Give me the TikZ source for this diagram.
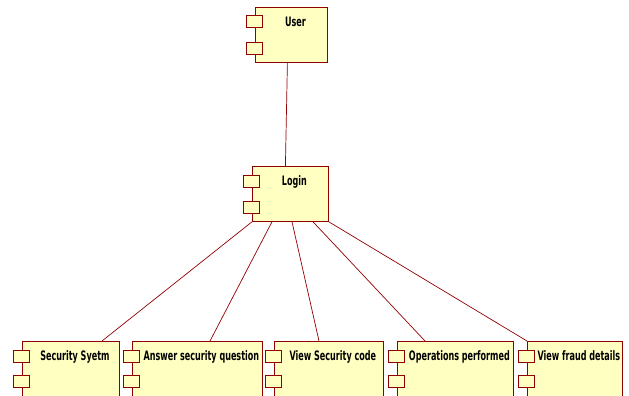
\documentclass[tikz,border=0pt]{standalone}
\usepackage{fontspec}
\setmainfont{DejaVu Sans}[FakeStretch=0.62]
\definecolor{compline}{RGB}{145,0,0}
\definecolor{compfill}{RGB}{255,255,194}

\begin{document}
\begin{tikzpicture}[x=1pt, y=-1pt,
    comp/.style={draw=compline, fill=compfill, line width=0.8pt, anchor=north west,
      minimum height=55pt, inner xsep=2pt, inner ysep=9pt, text height=10pt, text depth=27pt,
      font=\bfseries\fontsize{13}{15}\selectfont, execute at begin node=\hspace*{8pt}},
    tab/.style={draw=compline, fill=compfill, line width=0.8pt},
    link/.style={draw=compline, line width=0.7pt}]
  \useasboundingbox (0,0) rectangle (629,396);

  \node[comp, minimum width=72pt] (user) at (255,7) {User};
  \node[comp, minimum width=76pt] (login) at (252,166) {Login};

  \node[comp, minimum width=97pt] (secsys) at (22,341) {Security Syetm};
  \node[comp, minimum width=130pt] (answer) at (132,341) {Answer security question};
  \node[comp, minimum width=109pt] (viewcode) at (274,341) {View Security code};
  \node[comp, minimum width=116pt] (operations) at (397,341) {Operations performed};
  \node[comp, minimum width=95pt] (fraud) at (527,341) {View fraud details};

  % component tabs
  \foreach \n/\a/\b in {user/8/35, login/9/35, secsys/9/34, answer/9/34,
      viewcode/9/34, operations/9/34, fraud/9/34} {
    \draw[tab] ([shift={(-9,\a)}]\n.north west) rectangle ++(16,12);
    \draw[tab] ([shift={(-9,\b)}]\n.north west) rectangle ++(16,12);
  }

  \draw[link] ([xshift=-4pt]user.south) -- ([xshift=-5pt]login.north);

  \draw[link] (login.south west) -- ([xshift=80pt]secsys.north west);
  \draw[link] ([xshift=20pt]login.south west) -- ([xshift=78pt]answer.north west);
  \draw[link] ([xshift=40pt]login.south west) -- ([xshift=45pt]viewcode.north west);
  \draw[link] ([xshift=61pt]login.south west) -- ([xshift=28pt]operations.north west);
  \draw[link] (login.south east) -- (fraud.north west);
\end{tikzpicture}
\end{document}
